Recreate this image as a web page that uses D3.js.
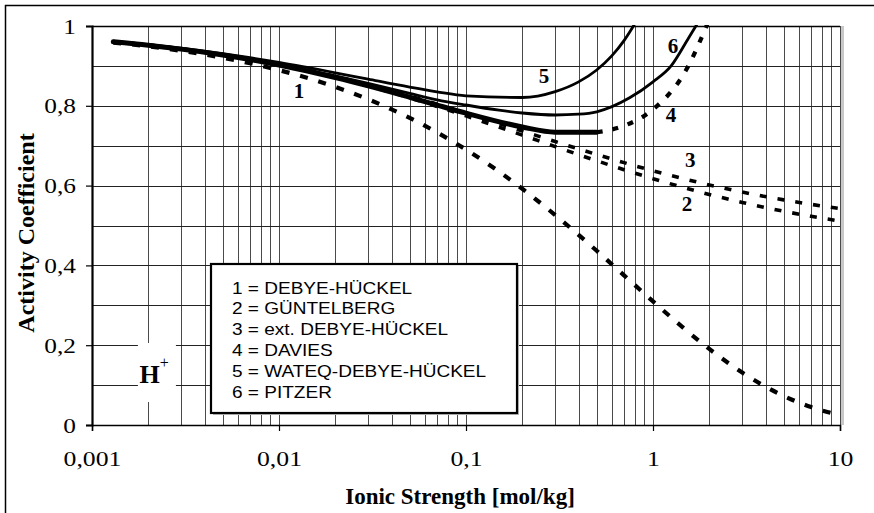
<!DOCTYPE html>
<html><head><meta charset="utf-8">
<script src="https://cdn.jsdelivr.net/npm/d3@7"></script>
<style>body{margin:0;background:#fff}</style>
</head><body><svg id="c" width="874" height="513"></svg>
<script>
// ---------------- data ----------------
const ionicGrid = [0.0013,0.002,0.003,0.005,0.007,0.01,0.02,0.03,0.05,0.07,0.1,0.2,0.3,0.5,0.7,1,2,3,5,7,10];
const debyeHuckel = [0.9586,0.9490,0.9378,0.9205,0.9067,0.8894,0.8473,0.8163,0.7696,0.7333,0.6902,0.5921,0.5261,0.4366,0.3751,0.3097,0.1906,0.1313,0.0727,0.0450,0.0246];
const guntelberg  = [0.9606,0.9520,0.9422,0.9275,0.9162,0.9026,0.8712,0.8498,0.8198,0.7984,0.7747,0.7265,0.6978,0.6623,0.6399,0.6173,0.5779,0.5578,0.5357,0.5231,0.5112];
const extDebyeHuckel = [0.9608,0.9523,0.9427,0.9283,0.9172,0.9039,0.8735,0.8530,0.8244,0.8041,0.7818,0.7368,0.7104,0.6779,0.6576,0.6371,0.6017,0.5837,0.5642,0.5530,0.5425];

const daviesI = [0.0013,0.002,0.003,0.005,0.007,0.01,0.02,0.03,0.05,0.07,0.1,0.2,0.3,0.5,0.7,1,1.5,2];
const daviesG = [0.9605,0.9518,0.9420,0.9272,0.9158,0.9021,0.8709,0.8500,0.8214,0.8019,0.7816,0.7469,0.7339,0.7336,0.7499,0.7910,0.8889,1.0168];
const daviesSolidLimit = 0.5;

const wateqI = [0.0013,0.002,0.003,0.005,0.007,0.01,0.02,0.03,0.05,0.07,0.1,0.2,0.3,0.4,0.5,0.6,0.7,0.8];
const wateqG = [0.9615,0.9533,0.9442,0.9307,0.9205,0.9087,0.8828,0.8667,0.8468,0.8349,0.8249,0.8208,0.8356,0.8600,0.8898,0.9245,0.9634,1.0058];

const pitzerI = [0.0013,0.002,0.003,0.005,0.007,0.01,0.02,0.03,0.05,0.07,0.1,0.15,0.2,0.3,0.4,0.5,0.75,1.0,1.25,1.55,1.8];
const pitzerG = [0.961,0.952,0.942,0.928,0.917,0.904,0.875,0.856,0.831,0.815,0.802,0.789,0.782,0.777,0.779,0.785,0.820,0.860,0.900,0.970,1.020];

const xTickValues = [0.001,0.01,0.1,1,10];
const xTickLabels = ["0,001","0,01","0,1","1","10"];
const yTickValues = [0,0.2,0.4,0.6,0.8,1];
const yTickLabels = ["0","0,2","0,4","0,6","0,8","1"];
const legendItems = ["1 = DEBYE-HÜCKEL","2 = GÜNTELBERG","3 = ext. DEBYE-HÜCKEL","4 = DAVIES","5 = WATEQ-DEBYE-HÜCKEL","6 = PITZER"];
const curveLabels = ["1","2","3","4","5","6"];
const curveLabelAt = [[0.0128,0.8195],[1.52,0.536],[1.58,0.647],[1.25,0.759],[0.261,0.857],[1.28,0.932]];

// ---------------- layout ----------------
const svg = d3.select('#c');
const P = {l:92, r:840, t:26, b:425};
const x = d3.scaleLog().domain([0.001,10]).range([P.l,P.r]);
const y = d3.scaleLinear().domain([0,1]).range([P.b,P.t]);
const SERIF = "'Liberation Serif','Times New Roman',serif";
const SANS = "'Liberation Sans',Arial,sans-serif";

svg.append('rect').attr('width',874).attr('height',513).attr('fill','#fff');
// outer frame
svg.append('path').attr('d','M5.5,530V5.5H890').attr('fill','none').attr('stroke','#000').attr('stroke-width',1.5);

// grid
const gx = [];
for (let k=-3;k<1;k++) for (let j=1;j<10;j++) gx.push(+(j*Math.pow(10,k)).toPrecision(3));
gx.push(10);
svg.append('g').selectAll('line').data(gx).join('line')
  .attr('x1',d=>Math.round(x(d))+0.5).attr('x2',d=>Math.round(x(d))+0.5)
  .attr('y1',P.t).attr('y2',P.b).attr('stroke','#4a4a4a').attr('stroke-width',1);
const gy = d3.range(1,11).map(i=>i/10);
svg.append('g').selectAll('line').data(gy).join('line')
  .attr('x1',P.l).attr('x2',P.r)
  .attr('y1',d=>Math.round(y(d))+0.5).attr('y2',d=>Math.round(y(d))+0.5)
  .attr('stroke','#222').attr('stroke-width',1);
// right shadow
svg.append('rect').attr('x',P.r+1).attr('y',P.t).attr('width',3).attr('height',P.b-P.t).attr('fill','#c8c8c8');

// axes
const xAxis = d3.axisBottom(x).tickValues(xTickValues).tickFormat((d,i)=>xTickLabels[i]).tickSize(6).tickPadding(19);
const gxa = svg.append('g').attr('transform',`translate(0,${P.b})`).call(xAxis);
gxa.select('.domain').attr('stroke','#000').attr('stroke-width',1.5);
gxa.selectAll('line').attr('stroke','#000').attr('stroke-width',1.2);
gxa.selectAll('text').attr('font-family',SERIF).attr('font-size',22).attr('fill','#000').attr('transform','scale(1.17,1)');

const yAxis = d3.axisLeft(y).tickValues(yTickValues).tickFormat((d,i)=>yTickLabels[i]).tickSize(6).tickPadding(8);
const gya = svg.append('g').attr('transform',`translate(${P.l},0)`).call(yAxis);
gya.select('.domain').attr('stroke','#000').attr('stroke-width',2.2);
gya.selectAll('line').attr('stroke','#000').attr('stroke-width',1.2);
gya.selectAll('text').attr('font-family',SERIF).attr('font-size',22).attr('fill','#000').attr('transform','scale(1.15,1)');
// top border
svg.append('line').attr('x1',P.l).attr('x2',P.r).attr('y1',P.t+0.5).attr('y2',P.t+0.5).attr('stroke','#000').attr('stroke-width',1.5);

// axis titles
svg.append('text').attr('x',460).attr('y',504).attr('text-anchor','middle')
  .attr('font-family',SERIF).attr('font-weight','bold').attr('font-size',23).text('Ionic Strength [mol/kg]');
svg.append('text').attr('transform','translate(34,233) rotate(-90)').attr('text-anchor','middle')
  .attr('font-family',SERIF).attr('font-weight','bold').attr('font-size',24).text('Activity Coefficient');

// curves
svg.append('clipPath').attr('id','clip').append('rect')
  .attr('x',P.l).attr('y',P.t-1).attr('width',P.r-P.l+3).attr('height',P.b-P.t+1);
const cg = svg.append('g').attr('clip-path','url(#clip)');
const line = d3.line().x(d=>x(d[0])).y(d=>y(d[1])).curve(d3.curveMonotoneX);
const zip = (a,b)=>a.map((v,i)=>[v,b[i]]);

function draw(pts, w, dash, cap){
  cg.append('path').attr('d',line(pts)).attr('fill','none').attr('stroke','#000')
    .attr('stroke-width',w).attr('stroke-dasharray',dash||null)
    .attr('stroke-linecap',cap||'butt').attr('stroke-linejoin','round');
}
draw(zip(ionicGrid,debyeHuckel),4.2,'8,11');
draw(zip(ionicGrid,extDebyeHuckel),3.6,'7,11');
draw(zip(ionicGrid,guntelberg),3.6,'7,11');
const dav = zip(daviesI,daviesG);
draw(dav.filter(d=>d[0]>=daviesSolidLimit),4.2,'6,10');
draw(dav.filter(d=>d[0]<=daviesSolidLimit),5,null,'round');
draw(zip(wateqI,wateqG),2.8,null,'round');
draw(zip(pitzerI,pitzerG),2.8,null,'round');

// curve labels
svg.append('g').selectAll('text').data(curveLabels).join('text')
  .attr('x',(d,i)=>x(curveLabelAt[i][0])).attr('y',(d,i)=>y(curveLabelAt[i][1]))
  .attr('text-anchor','middle').attr('font-family',SERIF).attr('font-weight','bold').attr('font-size',21)
  .text(d=>d);

// H+ box
const hx0 = x(0.00176), hx1 = x(0.00281), hy0 = y(0.2055), hy1 = y(0.0576);
svg.append('rect').attr('x',hx0).attr('y',hy0).attr('width',hx1-hx0).attr('height',hy1-hy0).attr('fill','#fff');
const ht = svg.append('text').attr('x',x(0.00215)).attr('y',y(0.105)).attr('text-anchor','middle')
  .attr('font-family',SERIF).attr('font-weight','bold').attr('font-size',26);
ht.append('tspan').text('H');
ht.append('tspan').attr('font-size',16).attr('dy',-15).attr('font-weight','normal').text('+');

// legend
const lx0 = 211, ly0 = 264, lw = 306, lh = 149;
svg.append('rect').attr('x',lx0+2).attr('y',ly0+2).attr('width',lw).attr('height',lh).attr('fill','#bbb');
svg.append('rect').attr('x',lx0).attr('y',ly0).attr('width',lw).attr('height',lh).attr('fill','#fff').attr('stroke','#000').attr('stroke-width',2.2);
svg.append('g').selectAll('text').data(legendItems).join('text')
  .attr('transform',(d,i)=>`translate(232,${293.5+i*20.8}) scale(1.1,1)`)
  .attr('font-family',SANS).attr('font-size',17.3).attr('fill','#000').text(d=>d);
</script></body></html>
